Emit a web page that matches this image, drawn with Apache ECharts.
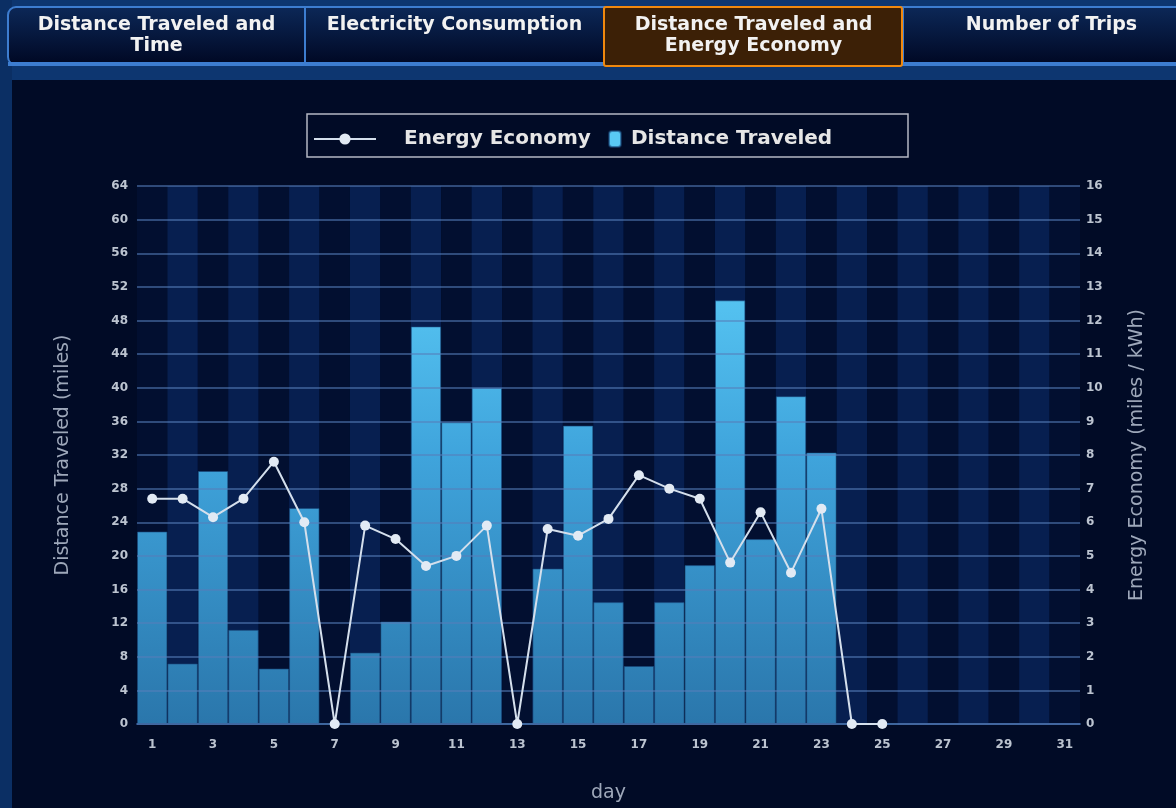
<!DOCTYPE html>
<html><head><meta charset="utf-8">
<script src="https://cdn.jsdelivr.net/npm/echarts@6/dist/echarts.min.js"></script>
<style>html,body{margin:0;padding:0;background:#010b26;}#c{width:1176px;height:808px;}</style>
</head><body><div id="c"></div>
<script>
const days = ['1','2','3','4','5','6','7','8','9','10','11','12','13','14','15','16','17','18','19','20','21','22','23','24','25','26','27','28','29','30','31'];
const distanceTraveled = [22.9,7.2,30.1,11.2,6.6,25.7,0,8.5,12.2,47.3,35.9,40.0,0,18.5,35.5,14.5,6.9,14.5,18.9,50.4,22.0,39.0,32.3,0,0,null,null,null,null,null,null];
const energyEconomy = [6.7,6.7,6.15,6.7,7.8,6.0,0,5.9,5.5,4.7,5.0,5.9,0,5.8,5.6,6.1,7.4,7.0,6.7,4.8,6.3,4.5,6.4,0,0,null,null,null,null,null,null];
const tabLabels = ['Distance Traveled and\nTime','Electricity Consumption','Distance Traveled and\nEnergy Economy','Number of Trips'];
const activeTab = 2;
const leftAxisName = 'Distance Traveled (miles)';
const rightAxisName = 'Energy Economy (miles / kWh)';
const xAxisName = 'day';

const FONT = 'DejaVu Sans';
const chart = echarts.init(document.getElementById('c'));

const tabX = [8, 305, 604, 903, 1200];
const graphics = [
  {type:'rect', shape:{x:0,y:0,width:1176,height:80}, style:{fill:'#0d3670'}, z:-10, silent:true},
  {type:'rect', shape:{x:0,y:0,width:12,height:808}, style:{fill:'#0b2f64'}, z:-10, silent:true},
  {type:'rect', shape:{x:8,y:7,width:1200,height:58,r:8},
   style:{fill:new echarts.graphic.LinearGradient(0,0,0,1,[{offset:0,color:'#0c2858'},{offset:1,color:'#000722'}]), stroke:'#3d7dd0', lineWidth:2}, silent:true},
  {type:'rect', shape:{x:8,y:62,width:1200,height:4}, style:{fill:'#3d7dd0'}, silent:true}
];
for (let i = 1; i < 4; i++) {
  graphics.push({type:'line', shape:{x1:tabX[i],y1:8,x2:tabX[i],y2:63}, style:{stroke:'#3d7dd0', lineWidth:2}, silent:true});
}
graphics.push({type:'rect', shape:{x:tabX[activeTab],y:7,width:tabX[activeTab+1]-tabX[activeTab]-1,height:59,r:2},
  style:{fill:'#3c2006', stroke:'#f0880e', lineWidth:2}, silent:true});
tabLabels.forEach((t, i) => {
  graphics.push({type:'text', x:(tabX[i]+tabX[i+1])/2, y:15,
    style:{text:t, fill:'#f2f2f2', font:'bold 19px "'+FONT+'"', align:'center', verticalAlign:'top', lineHeight:21}, silent:true});
});
graphics.push({type:'rect', shape:{x:307,y:114,width:601,height:43}, style:{fill:'none', stroke:'#b4b8c4', lineWidth:1.5}, silent:true});

const barGradient = new echarts.graphic.LinearGradient(0, 186, 0, 726, [
  {offset:0, color:'#64d8ff'},
  {offset:0.5, color:'#3fa4dc'},
  {offset:1, color:'#2a76ab'}
], true);

chart.setOption({
  backgroundColor: '#010b26',
  animation: false,
  textStyle: {fontFamily: FONT},
  graphic: graphics,
  legend: [
    {data:['Energy Economy'], left:308, top:124, itemWidth:62, itemHeight:14,
     textStyle:{color:'#e6e6e6', fontSize:20, fontWeight:'bold', padding:[0,0,0,23]}},
    {data:[{name:'Distance Traveled', itemStyle:{color:'#59c9f5'}}], left:603, top:124, itemWidth:12, itemHeight:16,
     textStyle:{color:'#e6e6e6', fontSize:20, fontWeight:'bold', padding:[0,0,0,5]}}
  ],
  grid: {left:137, right:96, top:186, bottom:82},
  xAxis: {
    type:'category', data:days, boundaryGap:true,
    axisTick:{show:false},
    axisLine:{lineStyle:{color:'#2b4c80', width:2}},
    axisLabel:{interval:1, color:'#bcc4d0', fontSize:12, fontWeight:'bold', margin:15},
    splitArea:{show:true, interval:0, areaStyle:{color:['#020f30','#071f50']}},
    name:xAxisName, nameLocation:'middle', nameGap:60,
    nameTextStyle:{color:'#9ea8ba', fontSize:19}
  },
  yAxis: [
    {type:'value', min:0, max:64, interval:4, position:'left', z:3,
     axisLine:{show:false}, axisTick:{show:false},
     axisLabel:{color:'#bcc4d0', fontSize:12, fontWeight:'bold', margin:9},
     splitLine:{lineStyle:{color:'rgba(85,125,185,0.55)', width:2}},
     name:leftAxisName, nameLocation:'middle', nameRotate:90, nameGap:64,
     nameTextStyle:{color:'#9ea8ba', fontSize:19}},
    {type:'value', min:0, max:16, interval:1, position:'right',
     axisLine:{show:false}, axisTick:{show:false},
     axisLabel:{color:'#bcc4d0', fontSize:12, fontWeight:'bold', margin:6},
     splitLine:{show:false},
     name:rightAxisName, nameLocation:'middle', nameRotate:90, nameGap:48,
     nameTextStyle:{color:'#9ea8ba', fontSize:19}}
  ],
  series: [
    {name:'Distance Traveled', type:'bar', yAxisIndex:0, data:distanceTraveled, z:2,
     barCategoryGap:'0%', itemStyle:{color:barGradient, borderColor:'rgba(25,70,120,0.6)', borderWidth:1}},
    {name:'Energy Economy', type:'line', yAxisIndex:1, data:energyEconomy, z:5,
     symbol:'circle', symbolSize:10, connectNulls:false,
     lineStyle:{color:'#d4dfec', width:2},
     itemStyle:{color:'#e2eaf4'}}
  ]
});
</script></body></html>
